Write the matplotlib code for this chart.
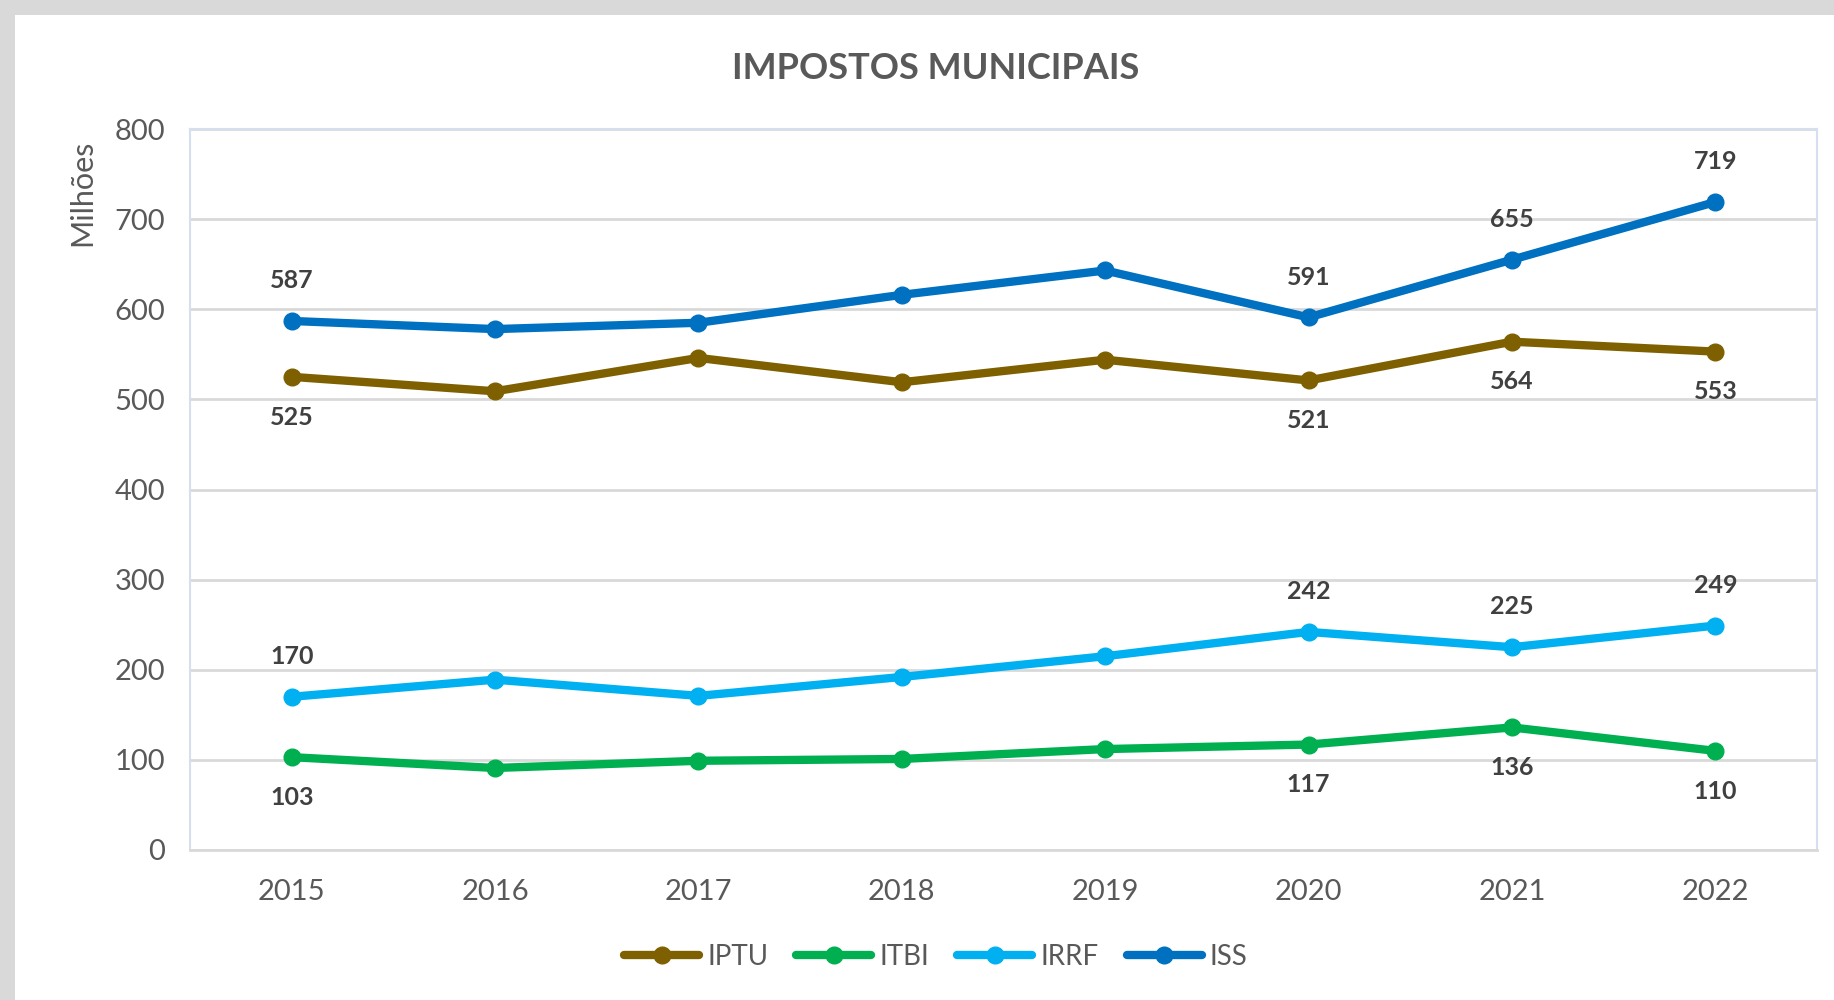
import matplotlib.pyplot as plt
from matplotlib.patches import Rectangle

# dados (milhões)
anos = ["2015", "2016", "2017", "2018", "2019", "2020", "2021", "2022"]
iptu = [525, 509, 546, 519, 544, 521, 564, 553]
itbi = [103, 91, 99, 101, 112, 117, 136, 110]
irrf = [170, 189, 171, 192, 215, 242, 225, 249]
iss = [587, 578, 585, 616, 643, 591, 655, 719]

# anos com rótulo de valor
rotulados = [0, 5, 6, 7]

plt.rcParams['font.family'] = ['Lato', 'DejaVu Sans']

fig = plt.figure(figsize=(18.34, 10), dpi=100)
fig.patch.set_facecolor("white")

# moldura cinza (sombra) à esquerda e no topo
fig.patches.append(Rectangle((0, 0), 15 / 1834, 1, transform=fig.transFigure,
                             facecolor="#d9d9d9", edgecolor="none", zorder=0))
fig.patches.append(Rectangle((0, 1 - 15 / 1000), 1, 15 / 1000, transform=fig.transFigure,
                             facecolor="#d9d9d9", edgecolor="none", zorder=0))

ax = fig.add_axes([190 / 1834, 1 - 850 / 1000, (1817 - 190) / 1834, (850 - 129) / 1000])

x = list(range(len(anos)))
series = [("IPTU", iptu, "#7f6000", "below"),
          ("ITBI", itbi, "#00b050", "below"),
          ("IRRF", irrf, "#00b0f0", "above"),
          ("ISS", iss, "#0070c0", "above")]

for nome, vals, cor, pos in series:
    ax.plot(x, vals, color=cor, lw=6, marker="o", ms=12, label=nome,
            solid_capstyle="round", zorder=3)
    for i in rotulados:
        dy = 29 if pos == "above" else -29
        ax.annotate(str(vals[i]), (x[i], vals[i]), xytext=(0, dy),
                    textcoords="offset points", ha="center", va="center",
                    fontsize=18, fontweight="bold", color="#404040")

ax.set_xlim(-0.5, len(anos) - 0.5)
ax.set_ylim(0, 800)
ax.set_yticks(range(0, 801, 100))
ax.set_xticks(x)
ax.set_xticklabels(anos)
ax.tick_params(axis="both", length=0, labelsize=21, labelcolor="#595959")
ax.tick_params(axis="x", pad=21)
ax.tick_params(axis="y", pad=18)
ax.grid(axis="y", color="#d9d9d9", lw=2)
ax.set_axisbelow(True)
for s in ["left", "top", "right"]:
    ax.spines[s].set_color("#d6dff0")
    ax.spines[s].set_linewidth(1.5)
ax.spines["bottom"].set_color("#d9d9d9")
ax.spines["bottom"].set_linewidth(2)

fig.text(936 / 1834, 1 - 68 / 1000, "IMPOSTOS MUNICIPAIS", ha="center", va="center",
         fontsize=26, fontweight="bold", color="#595959")
fig.text(82 / 1834, 1 - 193 / 1000, "Milhões", rotation=90, ha="center", va="center",
         fontsize=22, color="#595959")

fig.legend(loc="center", bbox_to_anchor=(936 / 1834, 1 - 957 / 1000), ncol=4,
           frameon=False, fontsize=20, labelcolor="#595959", handlelength=2.7,
           handletextpad=0.3, columnspacing=1.0)

fig.savefig("out.png", dpi=100)
